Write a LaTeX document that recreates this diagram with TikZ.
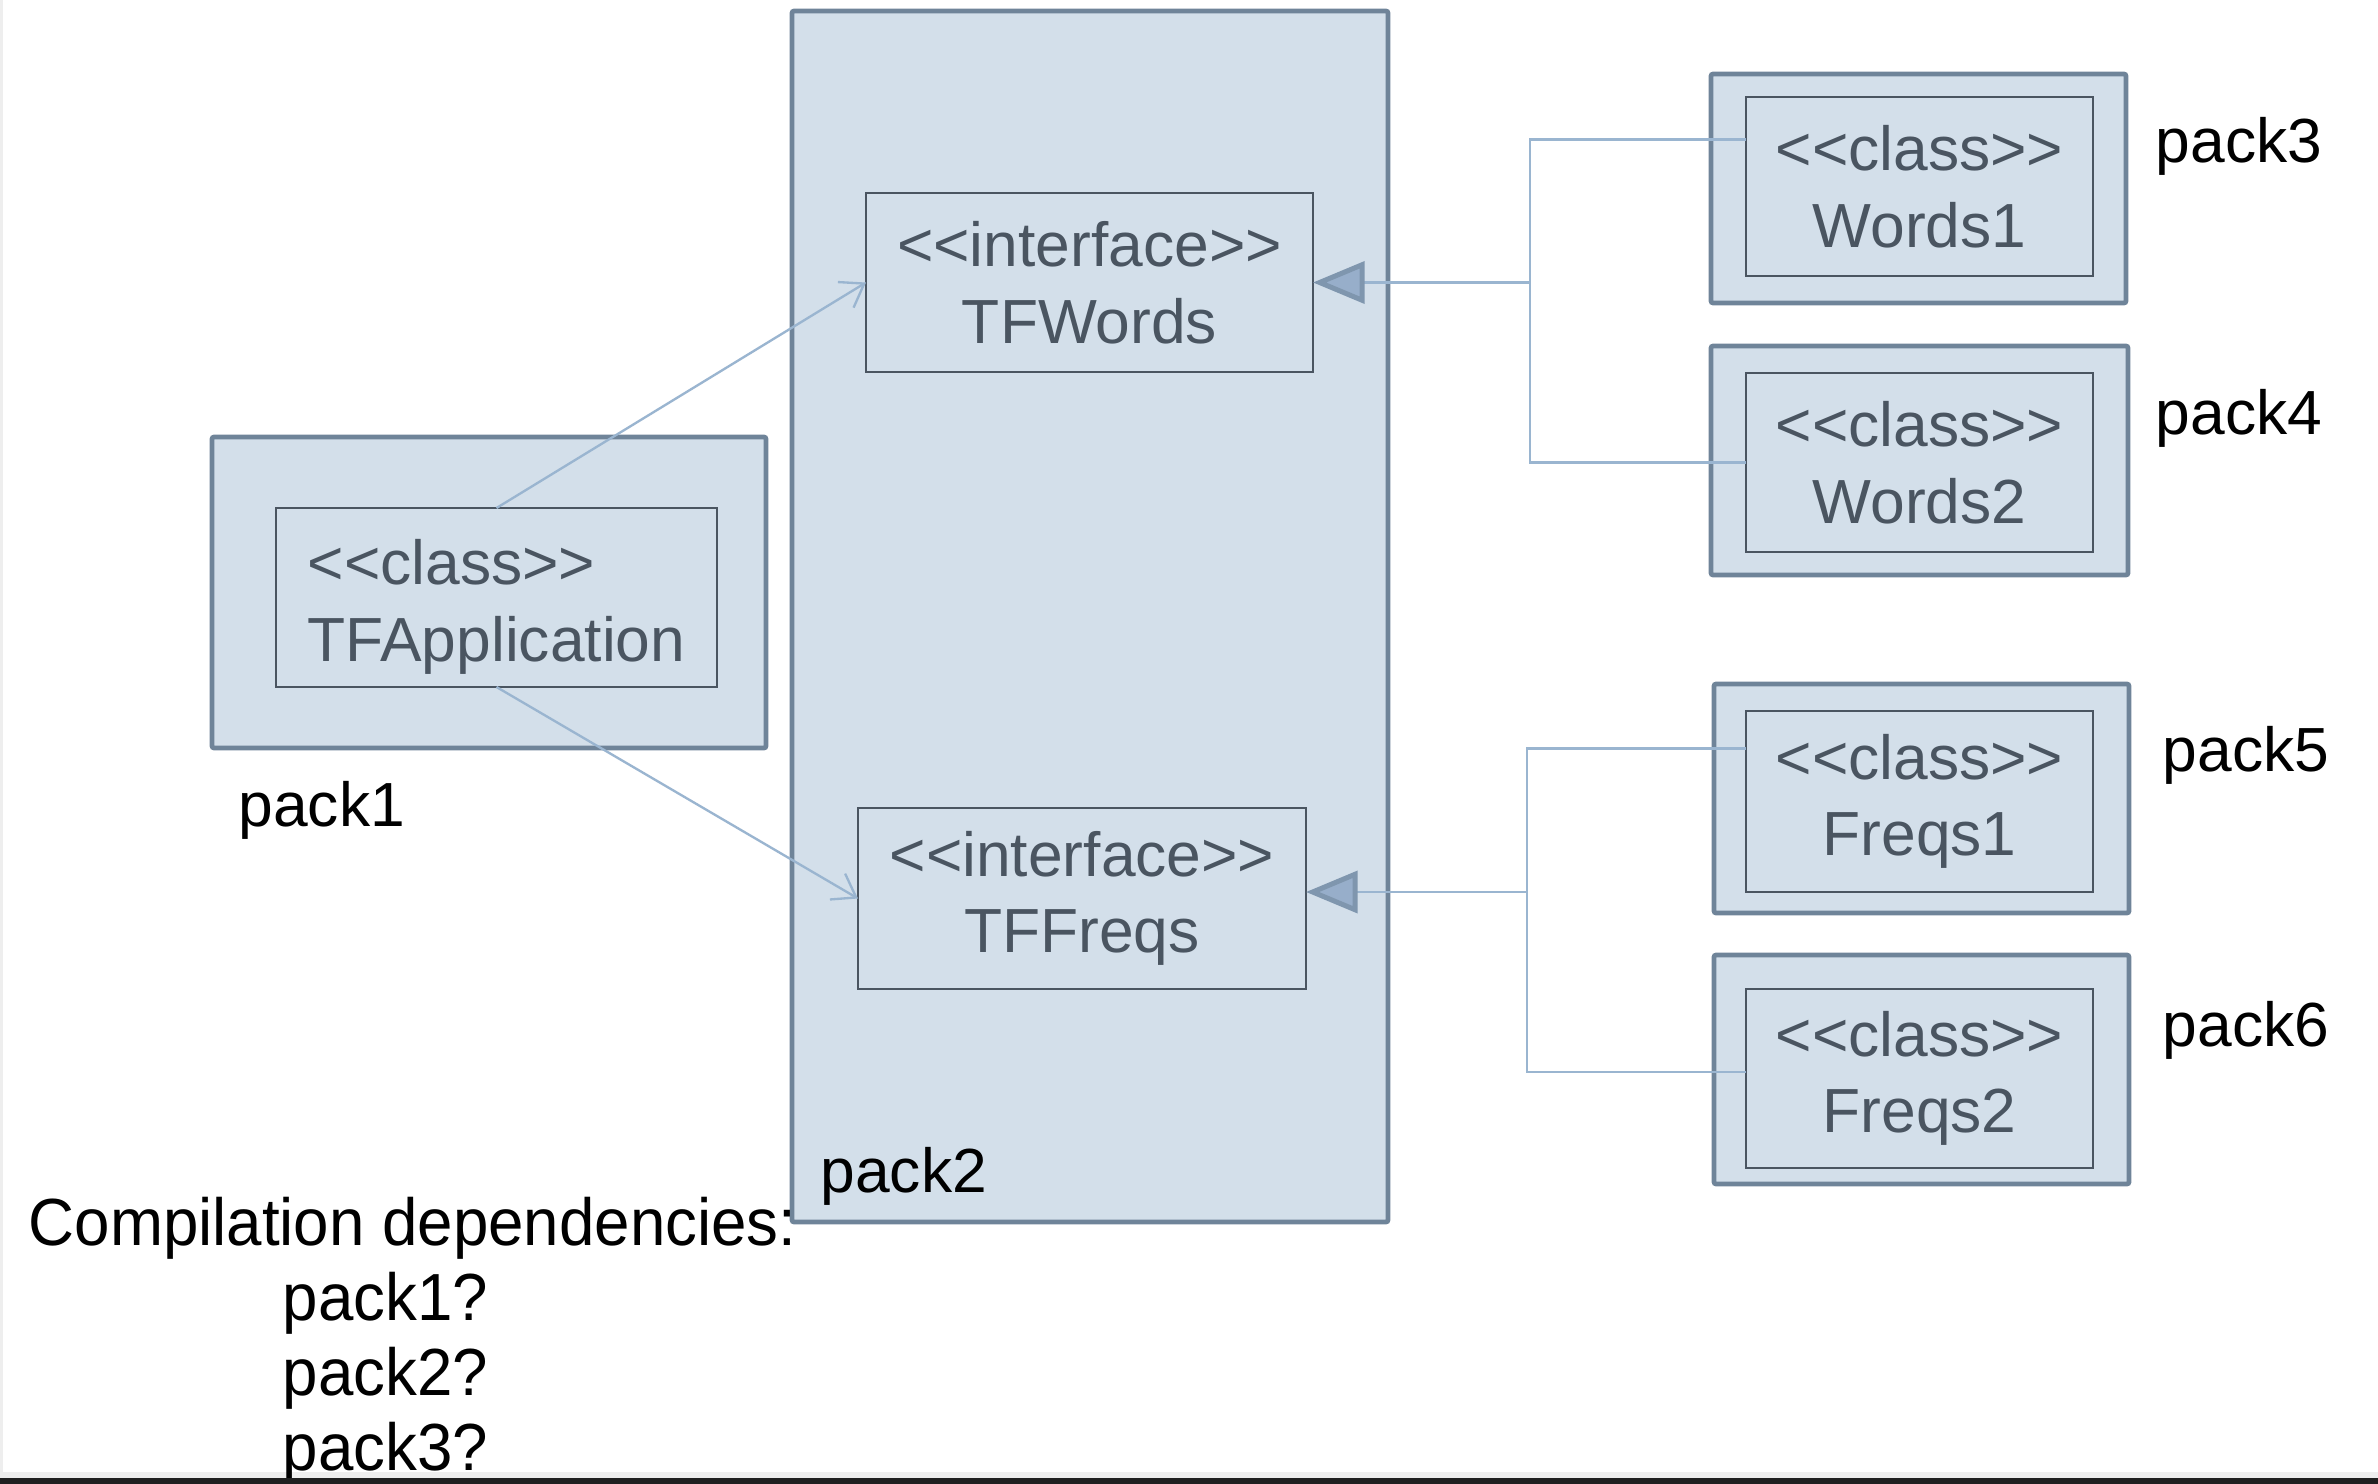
\documentclass[tikz,border=0pt]{standalone}
\usepackage{fontspec}
\setmainfont{Liberation Sans}
\newfontfamily\narrowfont[FakeStretch=0.955]{Liberation Sans}
\usetikzlibrary{arrows.meta}
\definecolor{boxfill}{RGB}{211,223,234}
\definecolor{outerline}{RGB}{111,132,153}
\definecolor{innerline}{RGB}{74,85,97}
\definecolor{boxtext}{RGB}{74,85,97}
\definecolor{connline}{RGB}{154,181,208}
\definecolor{arrfill}{RGB}{151,174,202}
\definecolor{arrline}{RGB}{127,150,174}
\definecolor{barcol}{RGB}{32,32,32}
\definecolor{edgecol}{RGB}{238,238,238}
\begin{document}
\begin{tikzpicture}[x=0.3pt,y=-0.3pt,
  outerbox/.style 2 args={draw=outerline, line width=1.4pt, rounded corners=0.6pt, fill=boxfill,
    minimum width=#1*0.3pt, minimum height=#2*0.3pt, inner sep=0pt, outer sep=0pt},
  innerbox/.style 2 args={draw=innerline, line width=0.6pt, fill=boxfill,
    minimum width=#1*0.3pt, minimum height=#2*0.3pt, inner sep=0pt, outer sep=0pt,
    text=boxtext, font=\fontsize{18.7}{23}\selectfont, align=center},
  lbl/.style={anchor=base west, inner sep=0pt, text=black, font=\fontsize{18.7}{22}\selectfont},
  qtext/.style={anchor=base west, inner sep=0pt, text=black, font=\narrowfont\fontsize{20}{22}\selectfont},
  realize/.style={draw=connline, line width=0.8pt},
  realarrow/.style={-{Triangle[length=15.5pt,width=12.5pt,line width=1.5pt,fill=arrfill,color=arrline]}},
  depend/.style={draw=connline, line width=0.7pt, -{Straight Barb[length=6.5pt,width=9pt]}}
]
\useasboundingbox (0,0) rectangle (2378,1484);
\fill[white] (0,0) rectangle (2378,1484);
\fill[edgecol] (0,0) rectangle (3,1478);
\fill[edgecol] (0,1472) rectangle (2378,1478);

% packages
\node[outerbox={596}{1211}] (pack2) at (1090,616.5) {};
\node[outerbox={554}{311}] (pack1) at (489,592.5) {};
\node[outerbox={415}{229}] (pack3) at (1918.5,188.5) {};
\node[outerbox={417}{229}] (pack4) at (1919.5,460.5) {};
\node[outerbox={415}{229}] (pack5) at (1921.5,798.5) {};
\node[outerbox={415}{229}] (pack6) at (1921.5,1069.5) {};

% classes
\node[innerbox={441}{179}, align=left] (app) at (496.5,597.5) {\rule{0pt}{19pt}<{}<class>{}>\\TFApplication};
\node[innerbox={447}{179}] (tfw) at (1089.5,282.5) {<{}<interface>{}>\\TFWords};
\node[innerbox={448}{181}] (tff) at (1082,898.5) {<{}<interface>{}>\\TFFreqs};
\node[innerbox={347}{179}] (w1) at (1919.5,186.5) {<{}<class>{}>\\Words1};
\node[innerbox={347}{179}] (w2) at (1919.5,462.5) {<{}<class>{}>\\Words2};
\node[innerbox={347}{181}] (f1) at (1919.5,801.5) {<{}<class>{}>\\Freqs1};
\node[innerbox={347}{179}] (f2) at (1919.5,1078.5) {<{}<class>{}>\\Freqs2};

% package labels
\node[lbl] (l1) at (238,826) {pack1};
\node[lbl] (l2) at (820,1192) {pack2};
\node[lbl] (l3) at (2155,162) {pack3};
\node[lbl] (l4) at (2155,434) {pack4};
\node[lbl] (l5) at (2162,771) {pack5};
\node[lbl] (l6) at (2162,1046) {pack6};

% realization connectors
\coordinate (jxw) at (1530,0);
\coordinate (jxf) at (1527,0);
\coordinate (tfe) at ([yshift=1.95pt]tff.east);
\coordinate (jw) at (tfw.east -| jxw);
\coordinate (jf) at (tfe -| jxf);
\draw[realize] ([yshift=14pt]w1.west) -| (jw);
\draw[realize] (w2.west) -| (jw);
\draw[realize, realarrow] (jw) -- (tfw.east);
\draw[realize] ([yshift=16pt]f1.west) -| (jf);
\draw[realize] ([yshift=2pt]f2.west) -| (jf);
\draw[realize, realarrow] (jf) -- (tfe);

% dependencies
\draw[depend] (app.north) -- (tfw.west);
\draw[depend] (app.south) -- (tff.west);

% question text
\node[qtext] (q0) at (28,1245) {Compilation dependencies:};
\node[qtext] (q1) at (282,1320) {pack1?};
\node[qtext] (q2) at (282,1395) {pack2?};
\node[qtext] (q3) at (282,1470) {pack3?};

\fill[barcol] (0,1478) rectangle (2378,1484);
\end{tikzpicture}
\end{document}
